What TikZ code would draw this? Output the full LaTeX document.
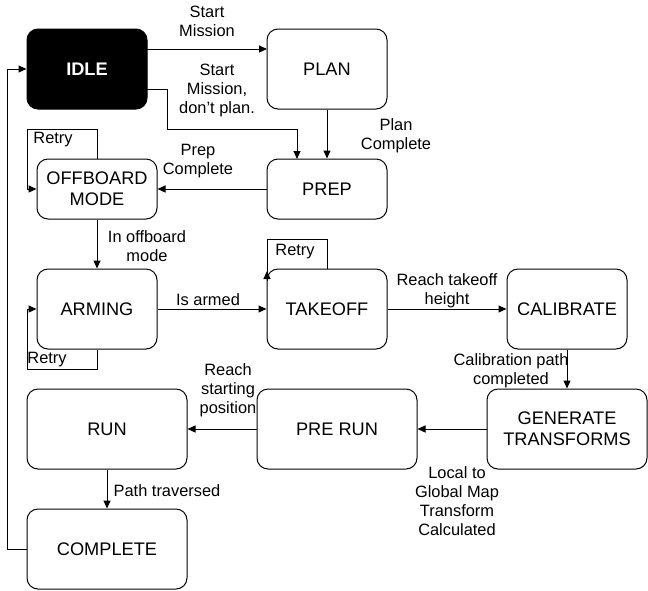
\documentclass[tikz,border=0pt]{standalone}
\usepackage{fontspec}
\setmainfont{Liberation Sans}
\usetikzlibrary{arrows.meta}
\begin{document}
\begin{tikzpicture}[x=1pt,y=-1pt,
  state/.style={draw,line width=1pt,rounded corners=11pt,minimum width=120pt,minimum height=80pt,inner sep=0pt,align=center,font=\fontsize{18.2}{21}\selectfont},
  wide/.style={state,minimum width=160pt},
  lbl/.style={align=center,inner sep=0pt,font=\fontsize{16.4}{19}\selectfont},
  arr/.style={line width=1pt,-{Triangle[length=8pt,width=7pt]}},
  ln/.style={line width=1pt}]
\useasboundingbox (0,0) rectangle (648,590);
% states
\node[state,fill=black,text=white,font=\fontsize{18.2}{21}\selectfont\bfseries] (idle) at (87,69) {IDLE};
\node[state] (plan) at (327,69) {PLAN};
\node[state,minimum height=60pt] (prep) at (327,189) {PREP};
\node[state,minimum height=60pt] (off) at (97,189) {OFFBOARD\\MODE};
\node[state] (arm) at (97,309) {ARMING};
\node[state] (take) at (327,309) {TAKEOFF};
\node[state] (cal) at (567,309) {CALIBRATE};
\node[wide] (gen) at (567,429) {GENERATE\\TRANSFORMS};
\node[wide] (pre) at (337,429) {PRE RUN};
\node[wide] (run) at (107,429) {RUN};
\node[wide] (comp) at (107,549) {COMPLETE};
% helper coordinates
\coordinate (a1) at (147,49);
\coordinate (a2) at (267,49);
\coordinate (b1) at (147,89);
\coordinate (b2) at (167,129);
\coordinate (b3) at (297,159);
\coordinate (c1) at (97,129);
\coordinate (c2) at (27,189);
\coordinate (d1) at (97,369);
\coordinate (d2) at (27,309);
\coordinate (e1) at (267,239);
\coordinate (e2) at (267,281);
\coordinate (e3) at (267,271);
\coordinate (f1) at (7,69);
% edges
\draw[arr] (a1) -- (a2);
\draw[arr] (b1) -| (b2) -| (b3);
\draw[arr] (plan) -- (prep);
\draw[arr] (prep) -- (off);
\draw[arr] (off.north) |- (c1) -| (c2) -- (off.west);
\draw[arr] (off) -- (arm);
\draw[arr] (arm.south) |- (d1) -| (d2) -- (arm.west);
\draw[arr] (arm) -- (take);
\draw[ln] (take.north) |- (e1) -- (e2);
\draw[arr] (e2) -- (e3);
\draw[arr] (take) -- (cal);
\draw[arr] (cal) -- (gen);
\draw[arr] (gen) -- (pre);
\draw[arr] (pre) -- (run);
\draw[arr] (run) -- (comp);
\draw[arr] (comp.west) -| (f1) -- (idle.west);
% labels
\node[lbl] (l1) at (207,21) {Start\\Mission};
\node[lbl] (l2) at (217,90) {Start\\Mission,\\don't plan.};
\node[lbl] (l3) at (396,136) {Plan\\Complete};
\node[lbl] (l4) at (198,161) {Prep\\Complete};
\node[lbl] (l5) at (53,140) {Retry};
\node[lbl] (l6) at (147,246) {In offboard\\mode};
\node[lbl] (l7) at (208,300) {Is armed};
\node[lbl] (l8) at (47,360) {Retry};
\node[lbl] (l9) at (295,252) {Retry};
\node[lbl] (l10) at (447,291) {Reach takeoff\\height};
\node[lbl] (l11) at (511,371) {Calibration path\\completed};
\node[lbl] (l12) at (228,390) {Reach\\starting\\position};
\node[lbl] (l13) at (457,501) {Local to\\Global Map\\Transform\\Calculated};
\node[lbl] (l14) at (167,491) {Path traversed};
\end{tikzpicture}
\end{document}
